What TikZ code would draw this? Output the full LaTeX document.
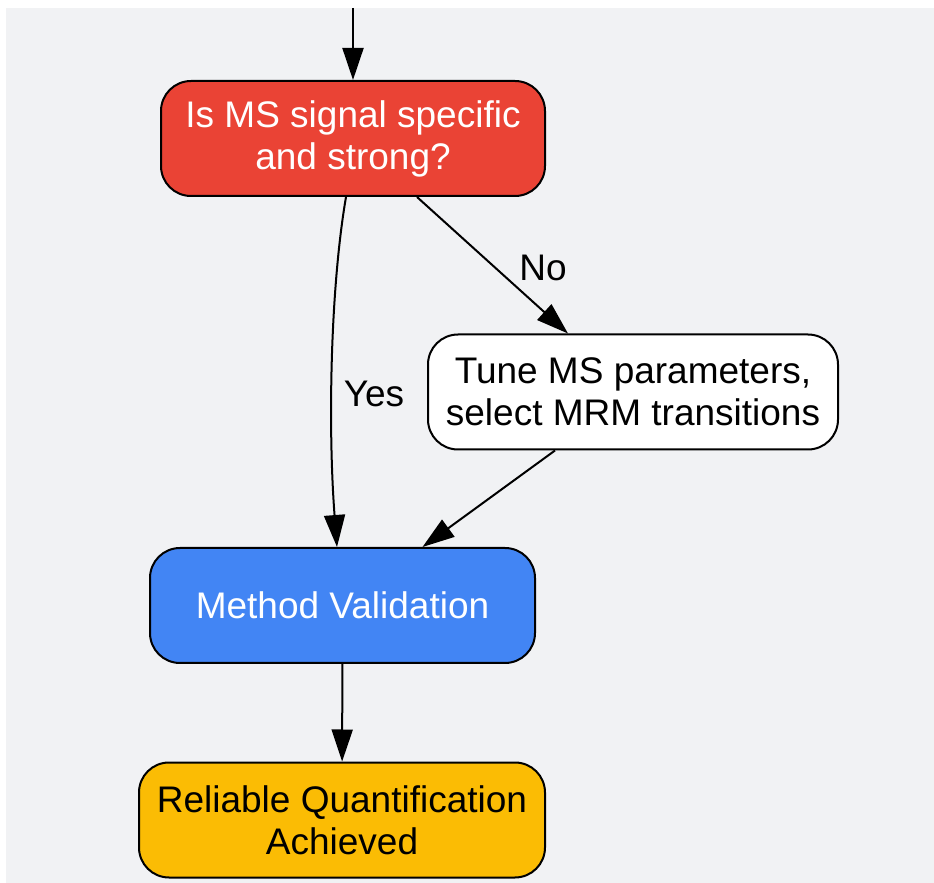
\documentclass[tikz,border=0pt]{standalone}
\usepackage{fontspec}
\setmainfont{Liberation Sans}
\usetikzlibrary{arrows.meta}
\definecolor{bggrey}{HTML}{F1F2F4}
\definecolor{askred}{HTML}{EA4335}
\definecolor{stepblue}{HTML}{4285F4}
\definecolor{doneyellow}{HTML}{FBBC04}
\tikzset{
  box/.style={draw=black,line width=1pt,rounded corners=15pt,align=center,
    minimum height=57.5pt,inner sep=0pt,font=\fontsize{18.5}{21}\selectfont},
  flow/.style={-{Triangle[length=16pt,width=10.5pt]},line width=1pt},
  lbl/.style={font=\fontsize{18.5}{21}\selectfont}
}
\begin{document}
\begin{tikzpicture}[x=0.5pt,y=-0.5pt]
    \useasboundingbox (0,0) rectangle (934,883);
    \fill[bggrey] (6,8) rectangle (934,883);
    \coordinate (in) at (353,8);
    \node[box,fill=askred,text=white,minimum width=192pt] (ask) at (353,138.5)
      {Is MS signal specific\\and strong?};
    \node[box,fill=white,minimum width=205pt] (tune) at (633,392)
      {Tune MS parameters,\\select MRM transitions};
    \node[box,fill=stepblue,text=white,minimum width=192.5pt] (valid) at (342.5,605.5)
      {Method Validation};
    \node[box,fill=doneyellow,minimum width=203pt] (done) at (342,820)
      {Reliable Quantification\\Achieved};
    \draw[flow] (in) -- (ask);
    \draw[flow] ([xshift=-3.5pt]ask.south) .. controls (330,290) and (328,430) ..
      ([xshift=-2.75pt]valid.north);
    \node[lbl] (yes) at (374,394) {Yes};
    \draw[flow] ([xshift=32pt]ask.south) -- ([xshift=-32.5pt]tune.north);
    \node[lbl] (no) at (543,268) {No};
    \draw[flow] ([xshift=-39pt]tune.south) -- ([xshift=40pt]valid.north);
    \draw[flow] (valid) -- (done);
  \end{tikzpicture}
\end{document}
